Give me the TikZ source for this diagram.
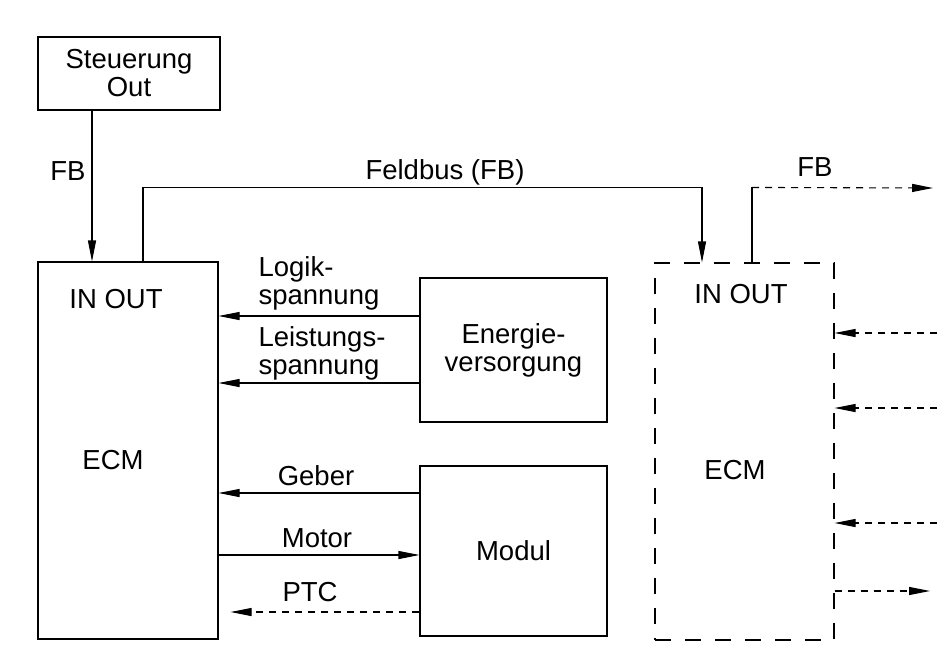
\documentclass[tikz,border=0pt]{standalone}
\usepackage{fontspec}
\setmainfont{Liberation Sans}
\usepackage{tikz}
\usetikzlibrary{arrows.meta,positioning}

\begin{document}
\begin{tikzpicture}[
  x=1pt, y=-1pt,                            % pixel grid, y downwards
  font=\fontsize{27.5}{28}\selectfont,
  line width=1.1pt,
  block/.style  = {rectangle,
                   draw,
                   align=center,
                   inner sep=0pt},
  dblock/.style = {block,
                   dash pattern=on 16pt off 14pt},
  label/.style  = {align=left, inner sep=0pt},
  arrow/.style  = {-{Triangle[length=21pt,width=8pt]}},
  darrow/.style = {arrow, dash pattern=on 7pt off 6pt}
]

\useasboundingbox (0,0) rectangle (952,648);

% blocks
\node[block, minimum width=182pt, minimum height=73pt]  (steu)   at (129,73.5)  {Steuerung\\Out};
\node[block, minimum width=180pt, minimum height=377pt] (ecmL)   at (128,450.5) {};
\node[block, minimum width=187pt, minimum height=144pt] (energie) at (513.5,350) {Energie-\\versorgung};
\node[block, minimum width=187pt, minimum height=170pt] (modul)  at (513.5,551) {Modul};
\node[dblock, minimum width=179pt, minimum height=377pt] (ecmR)  at (744.5,451.5) {};

% texts inside the ECM blocks
\node[label] (ioL)  at (116,299) {IN OUT};
\node[label] (txL)  at (113,460) {ECM};
\node[label] (ioR)  at (741,294) {IN OUT};
\node[label] (txR)  at (735,470) {ECM};

% free ends on the right
\coordinate (fbout) at (933,188);
\coordinate (in1)   at (937,333);
\coordinate (in2)   at (937,408);
\coordinate (in3)   at (937,523);
\coordinate (out1)  at (930,591);

% fieldbus
\draw[arrow] ([xshift=-37]steu.south) -- ([xshift=-37]steu.south |- ecmL.north);
\node[label] (fb1) at (68,171) {FB};

\draw[arrow] ([xshift=15]ecmL.north) -- ++(0,-74) -| ([xshift=-42.5]ecmR.north);
\node[label] (feldbus) at (445,172) {Feldbus (FB)};

\draw ([xshift=7.5]ecmR.north) -- ++(0,-75) coordinate (fbknee);
\draw[darrow] (fbknee) -- (fbout);
\node[label] (fb2) at (815,167) {FB};

% supply
\draw[arrow] ([yshift=34]energie.west)  -- ([yshift=34]energie.west -| ecmL.east);
\node[label, anchor=west] (logik) at (258,283) {Logik-\\spannung};
\draw[arrow] ([yshift=-33]energie.west) -- ([yshift=-33]energie.west -| ecmL.east);
\node[label, anchor=west] (leist) at (258,353) {Leistungs-\\spannung};

% module
\draw[arrow] ([yshift=58]modul.west) -- ([yshift=58]modul.west -| ecmL.east);
\node[label] (geber) at (316,476) {Geber};
\draw[arrow] ([yshift=-4]modul.west -| ecmL.east) -- ([yshift=-4]modul.west);
\node[label] (motor) at (317,538) {Motor};
\draw[darrow, shorten >=12pt] ([yshift=-61]modul.west) -- ([yshift=-61]modul.west -| ecmL.east);
\node[label] (ptc) at (310,592) {PTC};

% right hand side
\draw[darrow] (in1) -- (in1 -| ecmR.east);
\draw[darrow] (in2) -- (in2 -| ecmR.east);
\draw[darrow] (in3) -- (in3 -| ecmR.east);
\draw[darrow] (out1 -| ecmR.east) -- (out1);

\end{tikzpicture}
\end{document}
